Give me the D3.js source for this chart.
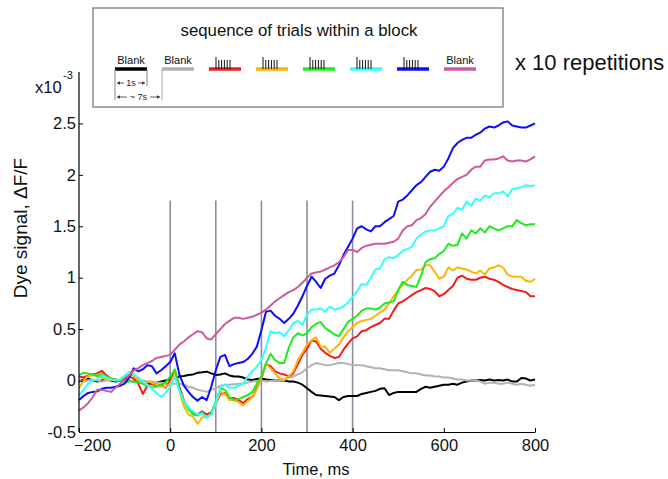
<!DOCTYPE html>
<html><head><meta charset="utf-8">
<script src="https://cdn.jsdelivr.net/npm/d3@7"></script>
<style>body{margin:0;background:#fff} svg{font-family:"Liberation Sans",Arial,sans-serif}</style>
</head><body><svg id="c" width="668" height="479"></svg>
<script>
// ---- data (x10^-3 dF/F), sampled every 10 ms from -200 to 800 ms ----
const times = d3.range(-200, 801, 10);
const blankBlack = [
 -0.01,0.01,0.02,0.0,-0.01,0.0,0.01,0.0,-0.01,0.0,
 0.01,0.0,-0.01,0.0,-0.02,-0.02,-0.03,-0.02,-0.01,0.0,
 0.01,0.02,0.04,0.045,0.055,0.06,0.075,0.08,0.087,0.07,
 0.055,0.06,0.07,0.05,0.04,0.04,0.03,0.01,0.006,0.015,
 0.02,0.01,0.005,0.0,0.0,0.0,-0.01,-0.01,-0.02,-0.04,
 -0.075,-0.11,-0.14,-0.145,-0.15,-0.155,-0.16,-0.19,-0.16,-0.15,
 -0.15,-0.15,-0.13,-0.12,-0.11,-0.10,-0.08,-0.075,-0.14,-0.12,
 -0.11,-0.11,-0.11,-0.11,-0.11,-0.08,-0.06,-0.07,-0.06,-0.05,
 -0.04,-0.04,-0.03,-0.04,-0.02,-0.01,0.0,0.0,0.006,0.0,
 0.01,0.0,0.005,0.0,0.01,-0.01,-0.01,0.025,0.02,0.0,
 0.01];
const blankGray = [
 0.0,-0.01,0.0,0.01,0.0,-0.01,0.0,0.01,0.0,0.0,
 0.01,0.0,-0.01,0.0,0.0,-0.01,-0.01,-0.02,-0.02,-0.03,
 -0.03,-0.03,-0.03,-0.04,-0.06,-0.07,-0.09,-0.10,-0.11,-0.09,
 -0.075,-0.05,-0.04,-0.04,-0.035,-0.03,-0.03,-0.02,-0.01,-0.005,
 0.0,-0.01,-0.005,0.0,0.0,0.005,0.03,0.04,0.06,0.08,
 0.12,0.15,0.17,0.16,0.15,0.15,0.16,0.17,0.17,0.16,
 0.15,0.15,0.15,0.14,0.13,0.12,0.12,0.11,0.10,0.10,
 0.10,0.09,0.08,0.07,0.07,0.06,0.05,0.05,0.04,0.04,
 0.03,0.03,0.02,0.01,0.01,0.0,0.0,0.0,-0.01,-0.03,
 -0.02,-0.02,-0.03,-0.03,-0.02,-0.03,-0.04,-0.03,-0.04,-0.05,
 -0.04];
const stimRed = [
 0.04,0.03,0.05,0.06,0.07,0.095,0.05,0.02,0.01,0.0,
 0.01,0.04,0.02,-0.03,-0.13,-0.05,-0.03,-0.05,-0.04,-0.07,
 0.0,0.10,-0.06,-0.19,-0.27,-0.31,-0.33,-0.30,-0.33,-0.31,
 -0.22,-0.13,-0.12,-0.17,-0.17,-0.19,-0.22,-0.18,-0.16,-0.075,
 0.02,0.16,0.14,0.09,0.07,0.06,0.04,0.07,0.16,0.25,
 0.31,0.39,0.38,0.31,0.27,0.24,0.22,0.23,0.30,0.36,
 0.41,0.43,0.48,0.49,0.52,0.54,0.56,0.60,0.60,0.68,
 0.75,0.77,0.80,0.83,0.86,0.88,0.90,0.89,0.87,0.82,
 0.84,0.88,0.92,1.00,1.02,0.99,0.98,0.98,1.00,1.01,
 0.99,0.98,0.96,0.93,0.91,0.89,0.88,0.87,0.86,0.82,
 0.82];
const stimOrange = [
 -0.075,0.0,0.045,0.05,0.055,0.03,0.01,0.006,0.006,0.006,
 0.03,0.055,0.04,0.01,-0.03,-0.01,-0.02,-0.04,-0.06,-0.06,
 -0.03,0.07,-0.10,-0.25,-0.33,-0.35,-0.42,-0.36,-0.35,-0.33,
 -0.22,-0.11,-0.13,-0.19,-0.19,-0.21,-0.24,-0.20,-0.16,-0.09,
 0.03,0.16,0.12,0.07,0.02,0.01,0.04,0.09,0.20,0.27,
 0.35,0.39,0.42,0.33,0.33,0.27,0.31,0.35,0.42,0.48,
 0.52,0.56,0.58,0.59,0.60,0.63,0.66,0.69,0.75,0.82,
 0.88,0.93,0.98,1.02,1.075,1.08,1.12,1.12,1.06,0.99,
 1.01,1.10,1.07,1.10,1.09,1.08,1.06,1.04,1.07,1.03,
 1.09,1.10,1.12,1.10,1.03,1.01,1.01,1.01,0.97,0.96,
 0.99];
const stimGreen = [
 0.055,0.075,0.07,0.06,0.04,0.065,0.04,0.02,0.01,0.0,
 -0.02,-0.01,-0.01,-0.02,-0.03,-0.05,-0.06,-0.06,-0.04,-0.02,
 0.04,0.11,-0.08,-0.20,-0.28,-0.33,-0.34,-0.31,-0.36,-0.32,
 -0.20,-0.075,-0.09,-0.16,-0.19,-0.18,-0.16,-0.14,-0.11,-0.03,
 0.04,0.17,0.26,0.20,0.17,0.17,0.32,0.42,0.46,0.44,
 0.46,0.52,0.55,0.57,0.51,0.48,0.45,0.43,0.50,0.57,
 0.60,0.63,0.68,0.70,0.70,0.69,0.71,0.75,0.76,0.77,
 0.88,0.96,0.93,0.92,0.91,1.02,1.15,1.18,1.19,1.23,
 1.26,1.33,1.31,1.32,1.43,1.38,1.46,1.43,1.48,1.44,
 1.50,1.48,1.46,1.48,1.50,1.50,1.56,1.53,1.51,1.52,
 1.52];
const stimCyan = [
 -0.14,-0.09,-0.03,0.0,0.01,0.05,0.03,0.01,0.0,0.01,
 0.05,0.085,0.06,0.03,-0.01,-0.04,-0.08,-0.12,-0.16,-0.12,
 -0.06,0.04,-0.10,-0.20,-0.26,-0.30,-0.33,-0.32,-0.36,-0.33,
 -0.22,-0.06,-0.04,-0.07,-0.07,-0.05,-0.03,0.04,0.09,0.135,
 0.20,0.32,0.48,0.46,0.47,0.43,0.49,0.56,0.58,0.54,
 0.64,0.69,0.69,0.70,0.67,0.72,0.69,0.70,0.72,0.76,
 0.81,0.87,0.94,0.93,1.00,1.08,1.09,1.18,1.20,1.19,
 1.22,1.26,1.28,1.30,1.38,1.42,1.45,1.46,1.46,1.48,
 1.50,1.60,1.62,1.68,1.66,1.74,1.70,1.77,1.75,1.80,
 1.78,1.82,1.82,1.84,1.79,1.86,1.87,1.88,1.90,1.89,
 1.90];
const stimBlue = [
 -0.19,-0.15,-0.12,-0.11,-0.105,-0.08,-0.07,-0.07,-0.06,-0.05,
 -0.03,0.03,0.12,0.09,0.11,0.15,0.14,0.07,0.10,0.14,
 0.18,0.265,0.06,-0.05,-0.11,-0.16,-0.195,-0.16,-0.19,-0.06,
 0.10,0.23,0.25,0.14,0.16,0.17,0.18,0.21,0.26,0.33,
 0.49,0.67,0.68,0.63,0.60,0.56,0.60,0.65,0.73,0.82,
 0.92,1.01,0.96,0.90,0.99,1.02,1.04,1.12,1.22,1.30,
 1.38,1.48,1.50,1.47,1.45,1.50,1.50,1.54,1.57,1.60,
 1.74,1.76,1.80,1.85,1.90,1.93,1.98,2.03,2.05,2.04,
 2.08,2.16,2.26,2.31,2.34,2.36,2.36,2.39,2.41,2.45,
 2.47,2.46,2.48,2.51,2.52,2.48,2.47,2.46,2.46,2.48,
 2.50];
const blankMagenta = [
 -0.29,-0.26,-0.22,-0.16,-0.09,-0.09,-0.10,-0.11,-0.07,-0.03,
 0.02,0.05,0.10,0.12,0.15,0.17,0.19,0.22,0.23,0.24,
 0.25,0.30,0.35,0.38,0.42,0.45,0.48,0.47,0.41,0.40,
 0.45,0.50,0.55,0.58,0.61,0.61,0.60,0.61,0.62,0.64,
 0.66,0.69,0.73,0.77,0.80,0.83,0.86,0.88,0.91,0.95,
 1.00,1.04,1.05,1.06,1.08,1.10,1.12,1.15,1.20,1.27,
 1.27,1.25,1.29,1.31,1.32,1.33,1.33,1.33,1.34,1.35,
 1.38,1.46,1.50,1.51,1.56,1.58,1.62,1.69,1.74,1.79,
 1.84,1.88,1.92,1.96,1.98,2.00,2.05,2.08,2.08,2.14,
 2.15,2.15,2.16,2.18,2.14,2.13,2.14,2.14,2.13,2.15,
 2.18];

const seriesNames = ["blankBlack","blankGray","stimRed","stimOrange","stimGreen","stimCyan","stimBlue","blankMagenta"];
const seriesValues = [blankBlack,blankGray,stimRed,stimOrange,stimGreen,stimCyan,stimBlue,blankMagenta];
const legendLabels = ["Blank","Blank","","","","","","Blank"];
const xTicks = [-200,0,200,400,600,800];
const yTicks = [-0.5,0,0.5,1,1.5,2,2.5];
const stimMarkers = [0,100,200,300,400];

// ---- styles ----
const colors = {
  blankBlack:"#000000", blankGray:"#b2b2b2", stimRed:"#f21c1c", stimOrange:"#ffb400",
  stimGreen:"#1ced1c", stimCyan:"#33ffff", stimBlue:"#0c0cff", blankMagenta:"#cc5a9e"
};
const FONT = '"Liberation Sans",Arial,sans-serif';

const svg = d3.select("#c");
const x = d3.scaleLinear().domain([-200, 800]).range([79, 535]);
const y = d3.scaleLinear().domain([-0.5, 3]).range([432, 72]);

// stimulus marker lines
svg.append("g").selectAll("line").data(stimMarkers).join("line")
  .attr("x1", d => x(d)).attr("x2", d => x(d))
  .attr("y1", y(1.75)).attr("y2", y(-0.5))
  .attr("stroke", "#8c8c9c").attr("stroke-width", 1.6);

// series
const line = d3.line().x((d, i) => x(times[i])).y(d => y(d));
svg.append("g").selectAll("path").data(seriesNames).join("path")
  .attr("d", (n, i) => line(seriesValues[i]))
  .attr("fill", "none").attr("stroke", n => colors[n])
  .attr("stroke-width", 2).attr("stroke-linejoin", "round");

// axes
const gx = svg.append("g").attr("transform", `translate(0,${y(-0.5)})`)
  .call(d3.axisBottom(x).tickValues(xTicks).tickFormat(d3.format("d")).tickSize(-4).tickSizeOuter(0).tickPadding(7));
const gy = svg.append("g").attr("transform", `translate(${x(-200)},0)`)
  .call(d3.axisLeft(y).tickValues(yTicks).tickFormat(d => String(d)).tickSize(-4).tickSizeOuter(0).tickPadding(3));
[gx, gy].forEach(g => {
  g.select(".domain").attr("stroke", "#000").attr("stroke-width", 1.2);
  g.selectAll(".tick line").attr("stroke", "#000");
  g.selectAll("text").attr("font-size", 16.5).attr("fill", "#111").attr("font-family", FONT);
});
gy.select(".domain").attr("d", `M0,${y(3)}V${y(-0.5)}`);
gx.selectAll(".tick text").filter(d => d === -200).attr("dx", 13);

// exponent label
svg.append("text").attr("x", 35).attr("y", 93).attr("font-size", 16.5).attr("fill", "#111").text("x10");
svg.append("text").attr("x", 63).attr("y", 79).attr("font-size", 11).attr("fill", "#111").text("-3");

// axis titles
svg.append("text").attr("transform", "translate(27,228) rotate(-90)")
  .attr("text-anchor", "middle").attr("font-size", 19).attr("fill", "#111").text("Dye signal, ΔF/F");
svg.append("text").attr("x", 316).attr("y", 475).attr("text-anchor", "middle")
  .attr("font-size", 16.5).attr("fill", "#111").text("Time, ms");

// legend box
const lg = svg.append("g");
lg.append("rect").attr("x", 93).attr("y", 8).attr("width", 410).attr("height", 99)
  .attr("fill", "#fff").attr("stroke", "#7a7a7a").attr("stroke-width", 1.3);
lg.append("text").attr("x", 299).attr("y", 36).attr("text-anchor", "middle")
  .attr("font-size", 16.8).attr("fill", "#111").text("sequence of trials within a block");
const lx = d3.scaleLinear().domain([0, 7]).range([115, 444]);
const segW = 32, segY = 69;
seriesNames.forEach((n, i) => {
  const x0 = lx(i);
  lg.append("line").attr("x1", x0).attr("x2", x0 + segW).attr("y1", segY).attr("y2", segY)
    .attr("stroke", colors[n]).attr("stroke-width", 3.5);
  if (legendLabels[i]) {
    lg.append("text").attr("x", x0 + segW / 2).attr("y", 63.5).attr("text-anchor", "middle")
      .attr("font-size", 11).attr("fill", "#111").text(legendLabels[i]);
  } else {
    for (let k = 0; k < 6; k++) {
      lg.append("line").attr("x1", x0 + 7 + k * 2.8).attr("x2", x0 + 7 + k * 2.8)
        .attr("y1", k === 0 ? 57 : 60).attr("y2", segY).attr("stroke", "#111").attr("stroke-width", 1);
    }
  }
});
// timing annotation under first two segments
const a0 = lx(0), a1 = lx(0) + segW, a2 = lx(1);
lg.append("line").attr("x1", a0).attr("x2", a0).attr("y1", segY).attr("y2", 100).attr("stroke", "#888").attr("stroke-width", 1);
lg.append("line").attr("x1", a1).attr("x2", a1).attr("y1", segY).attr("y2", 86).attr("stroke", "#888").attr("stroke-width", 1);
lg.append("line").attr("x1", a2).attr("x2", a2).attr("y1", segY).attr("y2", 100).attr("stroke", "#aaa").attr("stroke-width", 1);
function arrow(xa, xb, yy) {
  lg.append("line").attr("x1", xa).attr("x2", xb).attr("y1", yy).attr("y2", yy).attr("stroke", "#333").attr("stroke-width", 0.8);
  const dir = xb > xa ? 1 : -1;
  lg.append("path").attr("d", `M${xb},${yy}l${-dir * 3},-1.8v3.6z`).attr("fill", "#333");
}
arrow(a0 + 9, a0 + 2, 83); arrow(a1 - 9, a1 - 2, 83);
lg.append("text").attr("x", (a0 + a1) / 2).attr("y", 86).attr("text-anchor", "middle").attr("font-size", 9).attr("fill", "#222").text("1s");
arrow(a0 + 12, a0 + 2, 97); arrow(a2 - 12, a2 - 2, 97);
lg.append("text").attr("x", (a0 + a2) / 2).attr("y", 100).attr("text-anchor", "middle").attr("font-size", 9).attr("fill", "#222").text("~ 7s");

svg.append("text").attr("x", 515).attr("y", 70).attr("font-size", 22).attr("fill", "#111").text("x 10 repetitions");
</script></body></html>
